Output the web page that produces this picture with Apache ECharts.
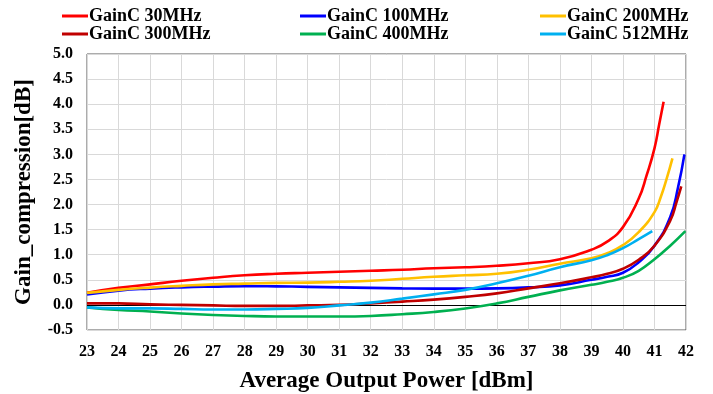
<!DOCTYPE html>
<html>
<head>
<meta charset="utf-8">
<script src="https://cdn.jsdelivr.net/npm/echarts@6/dist/echarts.min.js"></script>
<style>
html,body{margin:0;padding:0;background:#fff;}
#chart{width:713px;height:394px;}
</style>
</head>
<body>
<div id="chart"></div>
<script>
// ---- Data ----
const seriesNames = ['GainC 30MHz', 'GainC 100MHz', 'GainC 200MHz', 'GainC 300MHz', 'GainC 400MHz', 'GainC 512MHz'];
const seriesColors = ['#FF0000', '#0000FF', '#FFC000', '#C00000', '#00B050', '#00B0F0'];

const power30 = [23, 24, 25, 26, 27, 28, 29, 30, 31, 32, 33, 34, 35, 36, 37, 38, 39, 39.5, 40, 40.5, 40.75, 41.0, 41.15, 41.29];
const gain30  = [0.24, 0.34, 0.41, 0.48, 0.54, 0.59, 0.62, 0.64, 0.66, 0.68, 0.70, 0.73, 0.75, 0.78, 0.83, 0.91, 1.10, 1.26, 1.55, 2.12, 2.58, 3.12, 3.60, 4.05];

const power100 = [23, 24, 25, 26, 27, 28, 29, 30, 31, 32, 33, 34, 35, 36, 37, 38, 39, 39.5, 40, 40.5, 41, 41.5, 41.75, 41.95];
const gain100  = [0.21, 0.285, 0.325, 0.35, 0.365, 0.375, 0.37, 0.36, 0.35, 0.34, 0.33, 0.325, 0.325, 0.33, 0.35, 0.39, 0.50, 0.56, 0.64, 0.85, 1.18, 1.75, 2.35, 3.00];

const power200 = [23, 24, 25, 26, 27, 28, 29, 30, 31, 32, 33, 34, 35, 36, 37, 38, 39, 39.5, 40, 40.5, 41, 41.2, 41.38, 41.57];
const gain200  = [0.24, 0.30, 0.345, 0.38, 0.41, 0.425, 0.44, 0.445, 0.46, 0.48, 0.52, 0.56, 0.59, 0.62, 0.70, 0.82, 0.93, 1.03, 1.19, 1.45, 1.85, 2.15, 2.50, 2.92];

const power300 = [23, 24, 25, 26, 27, 28, 29, 30, 31, 32, 33, 34, 35, 36, 37, 38, 39, 39.5, 40, 40.5, 41, 41.5, 41.7, 41.85];
const gain300  = [0.03, 0.03, 0.01, 0.0, -0.01, -0.02, -0.02, -0.01, 0.0, 0.03, 0.065, 0.105, 0.16, 0.23, 0.33, 0.43, 0.55, 0.62, 0.72, 0.90, 1.18, 1.68, 2.05, 2.36];

const power400 = [23, 24, 25, 26, 27, 28, 29, 30, 31, 32, 33, 34, 35, 36, 37, 38, 39, 39.5, 40, 40.5, 41, 41.5, 41.98];
const gain400  = [-0.05, -0.10, -0.13, -0.17, -0.20, -0.22, -0.23, -0.23, -0.23, -0.22, -0.185, -0.14, -0.07, 0.03, 0.16, 0.29, 0.40, 0.46, 0.54, 0.68, 0.91, 1.18, 1.47];

const power512 = [23, 24, 25, 26, 27, 28, 29, 30, 31, 32, 33, 34, 35, 36, 37, 38, 39, 39.5, 40, 40.5, 40.93];
const gain512  = [-0.05, -0.07, -0.07, -0.08, -0.09, -0.09, -0.08, -0.06, -0.01, 0.045, 0.125, 0.21, 0.30, 0.43, 0.58, 0.75, 0.89, 0.99, 1.13, 1.31, 1.47];

const xTicks = {min: 23, max: 42, step: 1};
const yTicks = {min: -0.5, max: 5.0, step: 0.5};

const xTitle = 'Average Output Power [dBm]';
const yTitle = 'Gain_compression[dB]';

// ---- Build chart ----
const powers = [power30, power100, power200, power300, power400, power512];
const gains = [gain30, gain100, gain200, gain300, gain400, gain512];
const FONT = '"Times New Roman", "Liberation Serif", serif';

const series = seriesNames.map((name, i) => {
  const s = {
    name: name,
    type: 'line',
    smooth: 0.5,
    symbol: 'none',
    data: powers[i].map((p, k) => [p, gains[i][k]]),
    lineStyle: {color: seriesColors[i], width: 2.6},
    itemStyle: {color: seriesColors[i]},
    z: 3
  };
  if (i === 0) {
    s.markLine = {
      silent: true,
      symbol: 'none',
      label: {show: false},
      lineStyle: {color: '#000', width: 1, type: 'solid'},
      data: [{yAxis: 0}],
      z: 1
    };
  }
  return s;
});

const legendPos = [
  {left: 62, top: 7}, {left: 300, top: 7}, {left: 540, top: 7},
  {left: 62, top: 25}, {left: 300, top: 25}, {left: 540, top: 25}
];
const legends = seriesNames.map((name, i) => ({
  data: [name],
  left: legendPos[i].left,
  top: legendPos[i].top,
  icon: 'rect',
  itemWidth: 26,
  itemHeight: 3,
  padding: 0,
  textStyle: {fontFamily: FONT, fontWeight: 'bold', fontSize: 18, color: '#000', padding: [0, 0, 0, -4]},
  selectedMode: false
}));

const chart = echarts.init(document.getElementById('chart'), null, {renderer: 'canvas'});
chart.setOption({
  animation: false,
  backgroundColor: '#fff',
  legend: legends,
  grid: {
    left: 87, right: 27, top: 54, bottom: 64,
    outerBoundsMode: 'none',
    containLabel: false,
    show: true, borderColor: '#595959', borderWidth: 1, backgroundColor: 'transparent'
  },
  xAxis: {
    type: 'value',
    min: xTicks.min, max: xTicks.max, interval: xTicks.step,
    name: xTitle,
    nameLocation: 'middle',
    nameGap: 40,
    nameTextStyle: {fontFamily: FONT, fontWeight: 'bold', fontSize: 23, color: '#000'},
    axisLine: {show: false},
    axisTick: {show: false},
    axisLabel: {fontFamily: FONT, fontWeight: 'bold', fontSize: 16, color: '#000', margin: 14},
    splitLine: {show: true, lineStyle: {color: '#d9d9d9', width: 1}}
  },
  yAxis: {
    type: 'value',
    min: yTicks.min, max: yTicks.max, interval: yTicks.step,
    name: yTitle,
    nameLocation: 'middle',
    nameGap: 51,
    nameRotate: 90,
    nameTextStyle: {fontFamily: FONT, fontWeight: 'bold', fontSize: 23, color: '#000'},
    axisLine: {show: false},
    axisTick: {show: false},
    axisLabel: {fontFamily: FONT, fontWeight: 'bold', fontSize: 16, color: '#000', margin: 14,
      formatter: v => v.toFixed(1)},
    splitLine: {show: true, lineStyle: {color: '#d9d9d9', width: 1}}
  },
  series: series
});
</script>
</body>
</html>
